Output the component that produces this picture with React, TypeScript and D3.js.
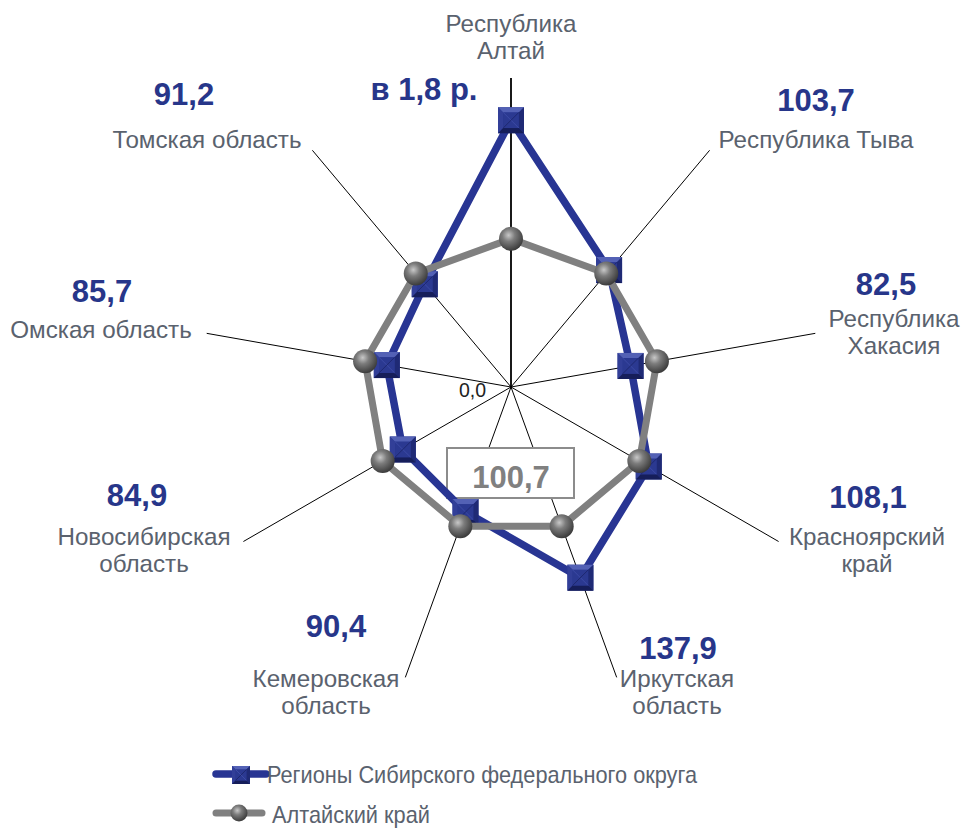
import React from "react";
import * as d3 from "d3";

// ---- data ----
const categories: string[][] = [
  ["Республика", "Алтай"],
  ["Республика Тыва"],
  ["Республика", "Хакасия"],
  ["Красноярский", "край"],
  ["Иркутская", "область"],
  ["Кемеровская", "область"],
  ["Новосибирская", "область"],
  ["Омская область"],
  ["Томская область"],
];
const regionValues: number[] = [181.3, 103.7, 82.5, 108.1, 137.9, 90.4, 84.9, 85.7, 91.2];
const altaiValues: number[] = [100.7, 100.7, 100.7, 100.7, 100.7, 100.7, 100.7, 100.7, 100.7];
const valueLabels: string[] = ["в 1,8 р.", "103,7", "82,5", "108,1", "137,9", "90,4", "84,9", "85,7", "91,2"];
const altaiLabel = "100,7";
const axisMinLabel = "0,0";
const seriesNames: string[] = ["Регионы Сибирского федерального округа", "Алтайский край"];

// ---- layout (positions, not data) ----
const W = 964, H = 828;
const CX = 511, CY = 387;
const catPos: [number, number][] = [
  [511, 32], [816, 148], [894, 327], [867, 545], [677, 687],
  [326, 687], [144, 545], [101, 338], [207, 148],
];
const valPos: [number, number][] = [
  [424, 100], [816, 111], [886, 295], [868, 508], [678, 659],
  [336, 637], [137, 506], [102, 302], [184, 105],
];

const BLUE = "#283593";
const VALUE_BLUE = "#27368a";
const GRAY = "#808080";
const TEXT = "#5a626e";
const FONT = "'Liberation Sans', Arial, sans-serif";

const rScale = d3.scaleLinear().domain([0, 210]).range([0, 309]);
const angleScale = d3.scaleLinear().domain([0, categories.length]).range([0, 2 * Math.PI]);

function pt(i: number, v: number): [number, number] {
  const a = angleScale(i);
  const r = rScale(v);
  return [CX + r * Math.sin(a), CY - r * Math.cos(a)];
}

function SquareMarker({ x, y, s }: { x: number; y: number; s: number }) {
  const h = s / 2;
  const i = s * 0.2;
  const tl = [x - h, y - h], tr = [x + h, y - h], br = [x + h, y + h], bl = [x - h, y + h];
  const itl = [x - h + i, y - h + i], itr = [x + h - i, y - h + i], ibr = [x + h - i, y + h - i], ibl = [x - h + i, y + h - i];
  const poly = (p: number[][]) => p.map((q) => q.join(",")).join(" ");
  return (
    <g>
      <rect x={x - h} y={y - h} width={s} height={s} fill="#2a3890" />
      <polygon points={poly([tl, tr, itr, itl])} fill="#5361b5" />
      <polygon points={poly([tl, itl, ibl, bl])} fill="#323f98" />
      <polygon points={poly([tr, br, ibr, itr])} fill="#1f2a75" />
      <polygon points={poly([bl, ibl, ibr, br])} fill="#161e5a" />
      <rect x={itl[0]} y={itl[1]} width={s - 2 * i} height={s - 2 * i} fill="#2b3991" />
      <line x1={itl[0]} y1={itl[1]} x2={ibr[0]} y2={ibr[1]} stroke="#3c4aa5" strokeWidth={1} />
      <line x1={itr[0]} y1={itr[1]} x2={ibl[0]} y2={ibl[1]} stroke="#1e2870" strokeWidth={1} />
    </g>
  );
}

function Sphere({ x, y, r }: { x: number; y: number; r: number }) {
  return <circle cx={x} cy={y} r={r} fill="url(#sphereGrad)" />;
}

export default function App() {
  const n = categories.length;
  const line = d3.line().curve(d3.curveLinearClosed);
  const bluePts = regionValues.map((v, i) => pt(i, v));
  const grayPts = altaiValues.map((v, i) => pt(i, v));
  const maxV = rScale.domain()[1];

  return (
    <svg width={W} height={H} style={{ position: "absolute", left: 0, top: 0, background: "#fff" }} fontFamily={FONT}>
      <defs>
        <radialGradient id="sphereGrad" cx="40%" cy="35%" r="65%">
          <stop offset="0%" stopColor="#c8c8c8" />
          <stop offset="40%" stopColor="#7c7c7c" />
          <stop offset="100%" stopColor="#3c3c3c" />
        </radialGradient>
      </defs>
      <rect width={W} height={H} fill="#fff" />

      {/* spokes */}
      {d3.range(n).map((i) => {
        const [x, y] = pt(i, maxV);
        return <line key={i} x1={CX} y1={CY} x2={x} y2={y} stroke="#000" strokeWidth={i === 0 ? 1.8 : 1} />;
      })}
      <text x={486} y={397} fontSize={19.5} fill="#222" textAnchor="end">{axisMinLabel}</text>

      {/* label box */}
      <rect x={447} y={448} width={127} height={50} fill="#fff" stroke="#8c8c8c" strokeWidth={2} />
      <text x={511} y={488} fontSize={31} fontWeight="bold" fill={GRAY} textAnchor="middle">{altaiLabel}</text>

      {/* blue series */}
      <path d={line(bluePts) || ""} fill="none" stroke={BLUE} strokeWidth={7.5} strokeLinejoin="round" />
      {bluePts.map(([x, y], i) => <SquareMarker key={i} x={x} y={y} s={26} />)}

      {/* gray series */}
      <path d={line(grayPts) || ""} fill="none" stroke={GRAY} strokeWidth={7} strokeLinejoin="round" />
      {grayPts.map(([x, y], i) => <Sphere key={i} x={x} y={y} r={12} />)}

      {/* category labels */}
      {categories.map((lines, i) => (
        <text key={i} x={catPos[i][0]} y={catPos[i][1]} fontSize={24.2} fill={TEXT} textAnchor="middle">
          {lines.map((l, j) => (
            <tspan key={j} x={catPos[i][0]} dy={j === 0 ? 0 : 27}>{l}</tspan>
          ))}
        </text>
      ))}

      {/* value labels */}
      {valueLabels.map((l, i) => (
        <text key={i} x={valPos[i][0]} y={valPos[i][1]} fontSize={31} fontWeight="bold" fill={VALUE_BLUE} textAnchor="middle">{l}</text>
      ))}

      {/* legend */}
      <line x1={216} y1={774} x2={266} y2={774} stroke={BLUE} strokeWidth={7.5} strokeLinecap="round" />
      <SquareMarker x={241} y={775} s={18} />
      <text x={267} y={783} fontSize={24} fill={TEXT} textLength={430} lengthAdjust="spacingAndGlyphs">{seriesNames[0]}</text>
      <line x1={216} y1={813} x2={262} y2={813} stroke={GRAY} strokeWidth={7} strokeLinecap="round" />
      <Sphere x={239} y={813} r={8.5} />
      <text x={272} y={823} fontSize={24} fill={TEXT} textLength={158} lengthAdjust="spacingAndGlyphs">{seriesNames[1]}</text>
    </svg>
  );
}
